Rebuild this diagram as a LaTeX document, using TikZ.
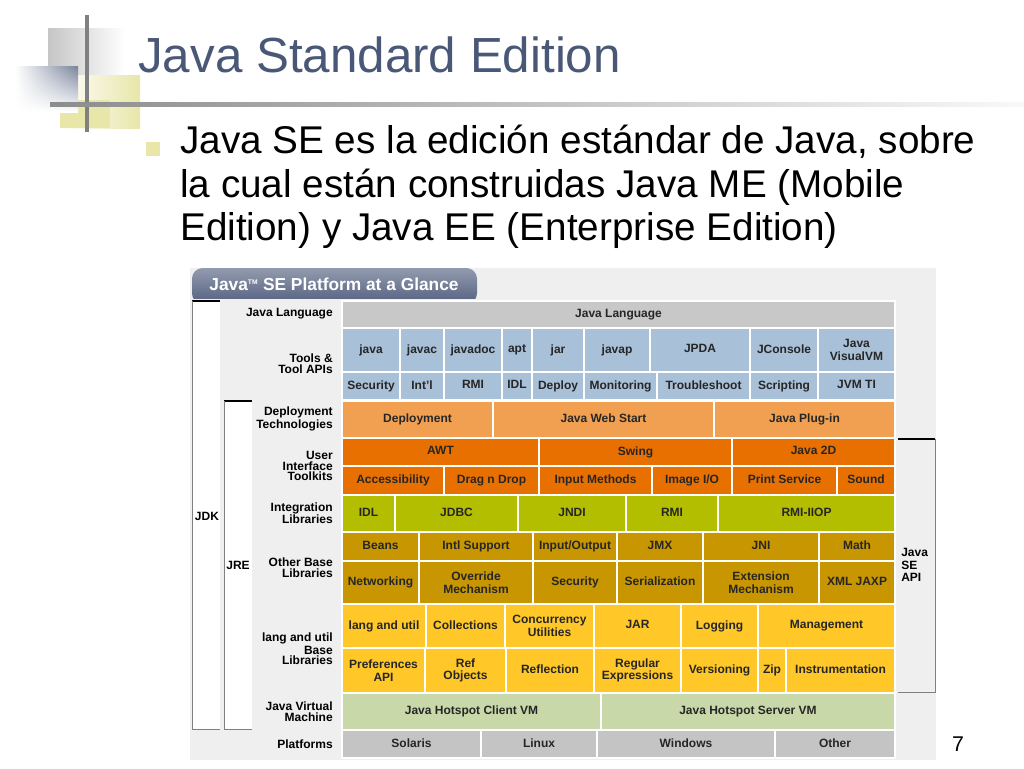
\documentclass[tikz,border=0pt]{standalone}
\usepackage{fontspec}
\setmainfont{Liberation Sans}
\usetikzlibrary{positioning,shadings}
\definecolor{titleblue}{HTML}{4A5878}
\definecolor{toolblue}{HTML}{A8C0D8}
\definecolor{deploy}{HTML}{F0A050}
\definecolor{uiorange}{HTML}{E87000}
\definecolor{integ}{HTML}{B4BE00}
\definecolor{otherbase}{HTML}{C89600}
\definecolor{langbase}{HTML}{FFC828}
\definecolor{jvmgreen}{HTML}{C8D8A8}
\definecolor{platgray}{HTML}{C4C4C4}
\definecolor{langgray}{HTML}{C8C8C8}
\definecolor{panel}{HTML}{EFEFEF}
\definecolor{bullety}{HTML}{E8E6A8}
\tikzset{
  cell/.style={font=\bfseries\fontsize{9}{9.5}\selectfont, align=center, inner sep=0pt, text=black!85},
  rowlabel/.style={font=\bfseries\fontsize{9}{8}\selectfont, align=right, anchor=east, inner sep=0pt},
  sidelabel/.style={font=\bfseries\fontsize{9}{9.5}\selectfont, inner sep=0pt},
  bodytext/.style={font=\fontsize{29}{32.5}\selectfont, anchor=north west, align=left, inner sep=0pt}
}
% one row of cells: y1, y2, colour, list of x1/x2/text
\newcommand\cellrow[4]{%
  \foreach \a/\b/\t in {#4} {
    \draw[white, line width=0.8pt, fill=#3] (\a,#1) rectangle (\b,#2);
    \node[cell] at ({(\a+\b)/2},{(#1+#2)/2}) {\vphantom{Ag}\t};
  }}
\begin{document}
\begin{tikzpicture}[x=0.75pt,y=-0.75pt]
    \useasboundingbox (0,0) rectangle (1024,768);
    \fill[white] (0,0) rectangle (1024,768);

    % Slide decoration
    \shade[left color=gray!45, right color=white] (48,28) rectangle (125,100);
    \shade[left color=white, right color=bullety] (60,75) rectangle (140,128);
    \fill[bullety] (60,100) rectangle (110,128);
    \shade[upper left=white, lower right=white, upper right=titleblue!75, lower left=white] (15,66) rectangle (78,112);
    \draw[gray, line width=2.5pt] (87,15) -- (87,132);
    \shade[left color=gray!90, right color=gray!5] (50,102.5) rectangle (1024,106);

    % Title and body
    \node[anchor=west, inner sep=0pt, text=titleblue, font=\fontsize{37}{40}\selectfont] (title) at (138,55) {Java Standard Edition};
    \fill[bullety] (146,142) rectangle (160,156);
    \node[bodytext] (body) at (180,125) {Java SE es la edición estándar de Java, sobre\\la cual están construidas Java ME (Mobile\\Edition) y Java EE (Enterprise Edition)};
    \node[font=\fontsize{16}{16}\selectfont] (pagenum) at (958,744) {7};

    % Panel and header tab
    \fill[panel] (190,268) rectangle (936,760);
    \shade[top color=titleblue!60, bottom color=titleblue!95, rounded corners=8pt] (192,268) rectangle (477,304);
    \fill[panel] (190,299) rectangle (477,306);
    \node[font=\bfseries\fontsize{13}{13}\selectfont, text=white] (header) at (334,284) {Java\textsuperscript{\tiny TM} SE Platform at a Glance};

    % JDK / JRE / API brackets
    \fill[white] (192,301) rectangle (220,729);
    \draw[black, line width=1pt] (192,301) -- (220,301);
    \draw[gray] (192,301) -- (192,729) -- (220,729);
    \node[sidelabel] (jdk) at (207,516) {JDK};
    \fill[white] (224,401) rectangle (252,729);
    \draw[black, line width=1pt] (224,401) -- (252,401);
    \draw[gray] (224,401) -- (224,729) -- (252,729);
    \node[sidelabel] (jre) at (238,565) {JRE};
    \draw[black, line width=1pt] (898,439) -- (935,439);
    \draw[gray] (935,439) -- (935,692) -- (898,692);
    \node[sidelabel, anchor=west, align=left] (seapi) at (901,565) {Java\\SE\\API};

    % Row labels
    \node[rowlabel] (lLang) at (333,314) {Java Language};
    \node[rowlabel] (lTools) at (333,364) {Tools \&\\Tool APIs};
    \node[rowlabel] (lDeploy) at (333,419) {Deployment\\Technologies};
    \node[rowlabel] (lUI) at (333,466) {User\\Interface\\Toolkits};
    \node[rowlabel] (lInteg) at (333,513) {Integration\\Libraries};
    \node[rowlabel] (lOther) at (333,568) {Other Base\\Libraries};
    \node[rowlabel] (lLangUtil) at (333,649) {lang and util\\Base\\Libraries};
    \node[rowlabel] (lJVM) at (333,712) {Java Virtual\\Machine};
    \node[rowlabel] (lPlat) at (333,744) {Platforms};

    % Cells
    \cellrow{301}{328}{langgray}{342/895/Java Language}
    \cellrow{328}{372}{toolblue}{342/400/java, 400/444/javac, 444/502/javadoc, 502/532/apt, 532/584/jar, 584/650/javap, 650/750/JPDA, 750/818/JConsole, 818/895/{Java\\VisualVM}}
    \cellrow{372}{400}{toolblue}{342/400/Security, 400/444/Int'l, 444/502/RMI, 502/532/IDL, 532/584/Deploy, 584/657/Monitoring, 657/750/Troubleshoot, 750/818/Scripting, 818/895/JVM TI}
    \cellrow{401}{438}{deploy}{342/493/Deployment, 493/714/Java Web Start, 714/895/Java Plug-in}
    \cellrow{438}{466}{uiorange}{342/539/AWT, 539/732/Swing, 732/895/Java 2D}
    \cellrow{466}{495}{uiorange}{342/444/Accessibility, 444/539/Drag n Drop, 539/652/Input Methods, 652/732/{Image I/O}, 732/837/Print Service, 837/895/Sound}
    \cellrow{495}{532}{integ}{342/395/IDL, 395/518/JDBC, 518/626/JNDI, 626/718/RMI, 718/895/RMI-IIOP}
    \cellrow{532}{561}{otherbase}{342/419/Beans, 419/533/Intl Support, 533/617/{Input/Output}, 617/703/JMX, 703/819/JNI, 819/895/Math}
    \cellrow{561}{604}{otherbase}{342/419/Networking, 419/533/{Override\\Mechanism}, 533/617/Security, 617/703/Serialization, 703/819/{Extension\\Mechanism}, 819/895/XML JAXP}
    \cellrow{604}{648}{langbase}{342/426/lang and util, 426/505/Collections, 505/594/{Concurrency\\Utilities}, 594/681/JAR, 681/758/Logging, 758/895/Management}
    \cellrow{648}{693}{langbase}{342/425/{Preferences\\API}, 425/506/{Ref\\Objects}, 506/594/Reflection, 594/681/{Regular\\Expressions}, 681/758/Versioning, 758/786/Zip, 786/895/Instrumentation}
    \cellrow{693}{730}{jvmgreen}{342/601/Java Hotspot Client VM, 601/895/Java Hotspot Server VM}
    \cellrow{730}{758}{platgray}{342/481/Solaris, 481/597/Linux, 597/775/Windows, 775/895/Other}
\end{tikzpicture}
\end{document}
